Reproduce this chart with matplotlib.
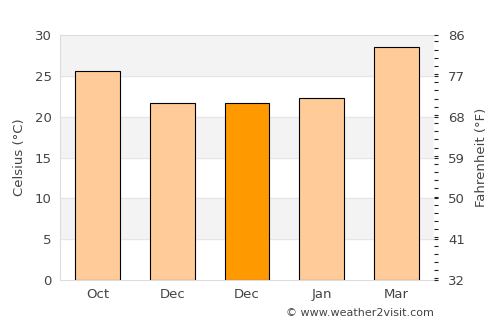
import numpy as np
import matplotlib
matplotlib.use("Agg")
import matplotlib.pyplot as plt
from matplotlib.ticker import MultipleLocator

months = ["Oct", "Dec", "Dec", "Jan", "Mar"]
celsius = [25.6, 21.7, 21.7, 22.3, 28.6]
highlight = 2
f_ticks = [32, 41, 50, 59, 68, 77, 86]

txt = "#444444"
fig = plt.figure(figsize=(5, 3.25), dpi=100)
ax = fig.add_axes([0.12, 0.138, 0.748, 0.754])

for lo in (5, 15, 25):
    ax.axhspan(lo, lo + 5, color="#f3f3f3", zorder=0)
for y in range(5, 30, 5):
    ax.axhline(y, color="#e6e6e6", lw=0.8, zorder=0.5)

colors = ["#ff9900" if i == highlight else "#ffcc99" for i in range(len(months))]
x = np.arange(len(months))
ax.bar(x, celsius, width=0.6, color=colors, edgecolor="black", linewidth=0.8, zorder=2)

ax.set_xlim(-0.5, len(months) - 0.5)
ax.set_ylim(0, 30)
ax.set_xticks(x)
ax.set_xticklabels(months)
ax.set_yticks(range(0, 31, 5))
ax.tick_params(axis="both", colors=txt, labelsize=9.5, length=0, pad=6)
ax.set_ylabel("Celsius (°C)", color=txt, fontsize=9.5, labelpad=6)
for s in ["left", "top", "bottom"]:
    ax.spines[s].set_color("#dddddd")
ax.spines["right"].set_visible(False)

ax2 = ax.twinx()
ax2.set_ylim(32, 86)
ax2.set_yticks(f_ticks)
ax2.yaxis.set_minor_locator(MultipleLocator(1.8))
ax2.tick_params(axis="y", which="major", labelcolor=txt, color="#222222",
                labelsize=9.5, length=3, width=0.8, pad=7)
ax2.tick_params(axis="y", which="minor", color="#222222", length=3, width=0.8)
ax2.set_ylabel("Fahrenheit (°F)", color=txt, fontsize=9.5, labelpad=7)
for s in ax2.spines.values():
    s.set_visible(False)

fig.text(0.868, 0.02, "© www.weather2visit.com", ha="right", va="bottom", color=txt, fontsize=8)

fig.savefig("out.png", dpi=100)
